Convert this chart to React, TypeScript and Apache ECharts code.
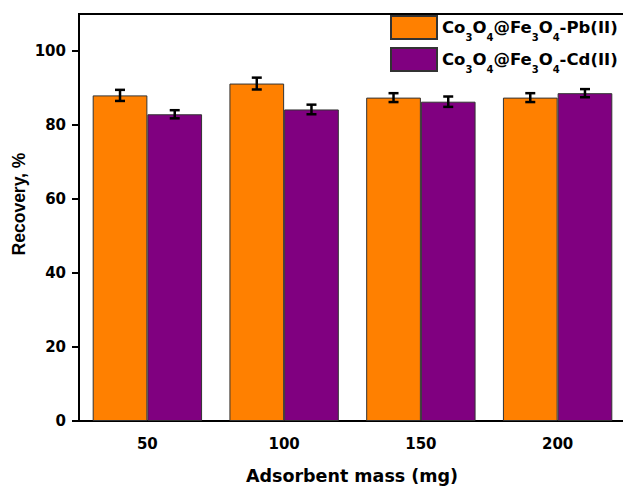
import React, { useEffect, useRef } from "react";
import * as echarts from "echarts";

const categories = ["50", "100", "150", "200"];
const pbValues = [88.0, 91.2, 87.4, 87.4];
const pbErrors = [1.5, 1.6, 1.2, 1.2];
const cdValues = [82.9, 84.2, 86.3, 88.6];
const cdErrors = [1.1, 1.3, 1.4, 1.1];
const yTicks = [0, 20, 40, 60, 80, 100];
const seriesNames = ["Co3O4@Fe3O4-Pb(II)", "Co3O4@Fe3O4-Cd(II)"];
const legendRich = [
  "{a|Co}{s|3}{a|O}{s|4}{a|@Fe}{s|3}{a|O}{s|4}{a|-Pb(II)}",
  "{a|Co}{s|3}{a|O}{s|4}{a|@Fe}{s|3}{a|O}{s|4}{a|-Cd(II)}",
];

const ORANGE = "#FF8000";
const PURPLE = "#800080";
const FONT = "DejaVu Sans";

function errorSeries(values: number[], errors: number[], sign: number) {
  return {
    type: "custom",
    z: 10,
    silent: true,
    data: values.map((v, i) => [i, v, errors[i]]),
    encode: { x: 0, y: 1 },
    renderItem: (params: any, api: any) => {
      const i = api.value(0);
      const v = api.value(1);
      const e = api.value(2);
      const base = api.coord([i, v]);
      const bw = api.size([1, 0])[0] * 0.4;
      const x = base[0] + (sign * bw) / 2;
      const yTop = api.coord([i, v + e])[1];
      const yBot = api.coord([i, v - e])[1];
      const cap = 5;
      const style = { stroke: "#000", lineWidth: 2.5 };
      return {
        type: "group",
        children: [
          { type: "line", shape: { x1: x, y1: yTop, x2: x, y2: yBot }, style },
          { type: "line", shape: { x1: x - cap, y1: yTop, x2: x + cap, y2: yTop }, style },
          { type: "line", shape: { x1: x - cap, y1: yBot, x2: x + cap, y2: yBot }, style },
        ],
      };
    },
  };
}

export default function App() {
  const ref = useRef<HTMLDivElement>(null);
  useEffect(() => {
    if (!ref.current) return;
    const chart = echarts.init(ref.current, null, { renderer: "svg" });
    chart.setOption({
      animation: false,
      backgroundColor: "#fff",
      grid: {
        left: 79,
        top: 14,
        right: -3,
        bottom: 65,
        show: true,
        borderColor: "#000",
        borderWidth: 2,
        containLabel: false,
        outerBoundsMode: "none",
      },
      legend: {
        orient: "vertical",
        left: 390,
        top: 15,
        padding: 0,
        itemWidth: 46,
        itemHeight: 23,
        itemGap: 5,
        icon: "rect",
        data: seriesNames,
        formatter: (name: string) => legendRich[seriesNames.indexOf(name)],
        textStyle: {
          rich: {
            a: { fontFamily: FONT, fontWeight: "bold", fontSize: 16.5, color: "#000", lineHeight: 29 },
            s: { fontFamily: FONT, fontWeight: "bold", fontSize: 10, color: "#000", lineHeight: 10, verticalAlign: "bottom" },
          },
        },
      },
      xAxis: {
        type: "category",
        data: categories,
        axisLine: { lineStyle: { color: "#000", width: 2 } },
        axisTick: { alignWithLabel: true, length: 7, lineStyle: { color: "#000", width: 2 } },
        axisLabel: { fontFamily: FONT, fontWeight: "bold", fontSize: 15, color: "#000", margin: 15 },
        splitLine: { show: false },
      },
      yAxis: {
        type: "value",
        min: 0,
        max: 110,
        axisLine: { show: true, lineStyle: { color: "#000", width: 2 } },
        axisTick: { show: true, length: 7, customValues: yTicks, lineStyle: { color: "#000", width: 2 } },
        axisLabel: { customValues: yTicks, fontFamily: FONT, fontWeight: "bold", fontSize: 15, color: "#000", margin: 13 },
        splitLine: { show: false },
      },
      graphic: [
        {
          type: "text",
          x: 352,
          y: 476,
          style: {
            text: "Adsorbent mass (mg)",
            fontFamily: FONT,
            fontWeight: "bold",
            fontSize: 17.5,
            fill: "#000",
            align: "center",
            verticalAlign: "middle",
            textAlign: "center",
            textVerticalAlign: "middle",
          },
        },
        {
          type: "text",
          x: 18.5,
          y: 204,
          rotation: Math.PI / 2,
          style: {
            text: "Recovery, %",
            fontFamily: "Liberation Sans",
            fontWeight: "bold",
            fontSize: 17.5,
            fill: "#000",
            align: "center",
            verticalAlign: "middle",
            textAlign: "center",
            textVerticalAlign: "middle",
          },
        },
      ],
      series: [
        {
          name: seriesNames[0],
          type: "bar",
          data: pbValues,
          barGap: "0%",
          barCategoryGap: "20%",
          itemStyle: { color: ORANGE, borderColor: "#333", borderWidth: 1 },
        },
        {
          name: seriesNames[1],
          type: "bar",
          data: cdValues,
          barGap: "0%",
          barCategoryGap: "20%",
          itemStyle: { color: PURPLE, borderColor: "#333", borderWidth: 1 },
        },
        errorSeries(pbValues, pbErrors, -1),
        errorSeries(cdValues, cdErrors, 1),
      ],
    });
    return () => chart.dispose();
  }, []);
  return (
    <div
      ref={ref}
      style={{ position: "absolute", left: 0, top: 0, width: 623, height: 486 }}
    />
  );
}
